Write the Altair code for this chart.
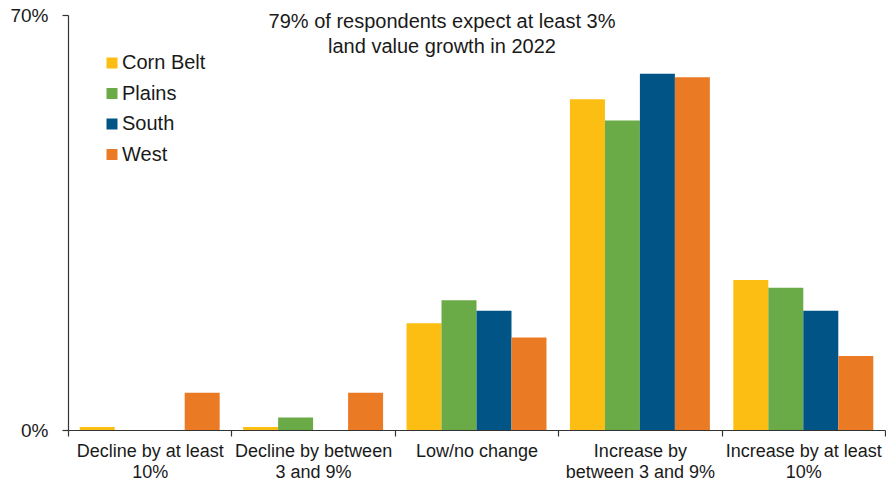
import json
import altair as alt
import pandas as pd

# Expected change in farmland values, share of respondents (%) by region
categories = [
    "Decline by at least 10%",
    "Decline by between 3 and 9%",
    "Low/no change",
    "Increase by between 3 and 9%",
    "Increase by at least 10%",
]
category_lines = [
    ["Decline by at least", "10%"],
    ["Decline by between", "3 and 9%"],
    ["Low/no change"],
    ["Increase by", "between 3 and 9%"],
    ["Increase by at least", "10%"],
]
regions = ["Corn Belt", "Plains", "South", "West"]
region_colors = ["#FCBE13", "#6AAB47", "#015486", "#EB7A25"]

corn_belt = [0.5, 0.5, 18.0, 55.8, 25.3]
plains = [0.0, 2.1, 21.9, 52.2, 24.0]
south = [0.0, 0.0, 20.1, 60.1, 20.1]
west = [6.3, 6.3, 15.6, 59.5, 12.5]

headline = ["79% of respondents expect at least 3%", "land value growth in 2022"]

series = {"Corn Belt": corn_belt, "Plains": plains, "South": south, "West": west}
rows = []
for region in regions:
    for cat, val in zip(categories, series[region]):
        rows.append({"category": cat, "region": region, "share": val})
df = pd.DataFrame(rows)

FONT = "Liberation Sans"
TEXT = "#1a1a1a"

label_expr = f"{json.dumps(category_lines)}[indexof({json.dumps(categories)}, datum.label)]"

bars = alt.Chart(df).mark_bar().encode(
    x=alt.X(
        "category:N",
        sort=categories,
        scale=alt.Scale(paddingInner=0, paddingOuter=0),
        axis=alt.Axis(
            title=None,
            labelAngle=0,
            labelExpr=label_expr,
            labelFontSize=18,
            labelLineHeight=21,
            labelPadding=6,
            labelLimit=300,
            tickBand="extent",
            tickSize=6,
        ),
    ),
    xOffset=alt.XOffset(
        "region:N",
        sort=regions,
        scale=alt.Scale(paddingInner=0, paddingOuter=0.335),
    ),
    y=alt.Y(
        "share:Q",
        scale=alt.Scale(domain=[0, 70], nice=False),
        axis=alt.Axis(
            title=None,
            values=[0, 70],
            labelExpr="datum.value + '%'",
            labelFontSize=19,
            labelPadding=14,
            tickSize=6,
            grid=False,
        ),
    ),
    color=alt.Color(
        "region:N",
        sort=regions,
        scale=alt.Scale(domain=regions, range=region_colors),
        legend=alt.Legend(
            title=None,
            orient="none",
            legendX=34,
            legendY=38,
            symbolType="square",
            symbolSize=121,
            symbolStrokeWidth=0,
            labelFontSize=20,
            labelOffset=0,
            rowPadding=10.5,
            padding=0,
        ),
    ),
)

note = alt.Chart().mark_text(
    align="center",
    baseline="alphabetic",
    fontSize=20,
    lineHeight=25,
    font=FONT,
    color=TEXT,
).encode(
    x=alt.value(374),
    y=alt.value(13),
    text=alt.value(headline),
)

chart = (
    alt.layer(bars, note)
    .properties(
        width=817,
        height=415,
        autosize=alt.AutoSizeParams(type="none"),
        padding={"left": 68, "top": 15, "right": 1, "bottom": 53},
    )
    .configure_view(stroke=None)
    .configure_axis(
        labelFont=FONT,
        labelColor=TEXT,
        domainColor="#333333",
        tickColor="#333333",
        domainWidth=1.2,
        tickWidth=1.2,
    )
    .configure_legend(labelFont=FONT, labelColor=TEXT)
)

chart.save("out.html", embed_options={"renderer": "svg", "actions": False})
